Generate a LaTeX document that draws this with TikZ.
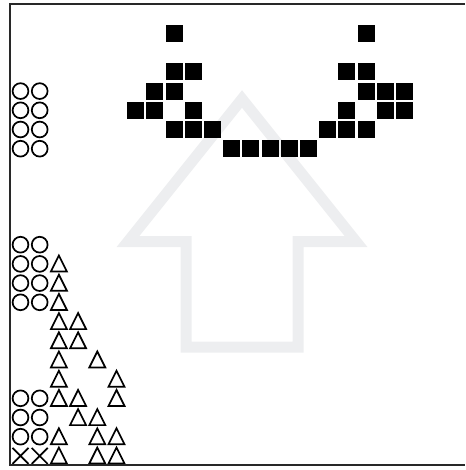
\documentclass[tikz,border=0pt]{standalone}
\usepackage{tikz}
\usetikzlibrary{positioning}
\definecolor{ArrowGray}{RGB}{237,238,240}
\definecolor{FrameGray}{RGB}{40,40,40}

\begin{document}
\begin{tikzpicture}[x=1pt,y=-1pt,
  blk/.style={fill=black,minimum size=17pt,inner sep=0pt},
  ring/.style={draw=black,circle,line width=1.7pt,minimum size=15.8pt,inner sep=0pt},
  tri/.style={draw=black,line width=1.7pt,line join=miter},
  xmark/.style={draw=black,line width=1.7pt},
  arrowline/.style={draw=ArrowGray,line width=11pt,line join=miter}]
  \useasboundingbox (0,0) rectangle (465,470);
  % big pale arrow behind everything
  \draw[arrowline] (242,99) -- (128,241.5) -- (186,241.5) -- (186,347)
    -- (298,347) -- (298,241.5) -- (356,241.5) -- cycle;
  % black squares (column/row on the 19.2pt grid)
  \foreach \c/\r in {8/0,18/0,8/2,9/2,17/2,18/2,7/3,8/3,18/3,19/3,20/3,
                     6/4,7/4,9/4,17/4,19/4,20/4,8/5,9/5,10/5,16/5,17/5,18/5,
                     11/6,12/6,13/6,14/6,15/6}
    \node[blk] (b\c-\r) at ({20.5+19.2*\c},{33.5+19.2*\r}) {};
  % circles
  \foreach \r in {3,4,5,6,11,12,13,14,19,20,21}
    \foreach \c in {0,1}
      \node[ring] (o\c-\r) at ({20.5+19.2*\c},{33.5+19.2*\r}) {};
  % triangles
  \foreach \c/\r in {2/12,2/13,2/14,2/15,3/15,2/16,3/16,2/17,4/17,2/18,5/18,
                     2/19,3/19,5/19,3/20,4/20,2/21,4/21,5/21,2/22,4/22,5/22}
    \draw[tri] ({20.5+19.2*\c-8},{33.5+19.2*\r+7.6}) -- ++(8,-16) -- ++(8,16) -- cycle;
  % crosses
  \foreach \c in {0,1}
    \draw[xmark] ({20.5+19.2*\c-8},{33.5+19.2*22-8}) -- ++(16,16)
                 ({20.5+19.2*\c-8},{33.5+19.2*22+8}) -- ++(16,-16);
  % frame
  \draw[FrameGray,line width=2pt] (465,4) -- (10,4) -- (10,465) -- (465,465);
\end{tikzpicture}
\end{document}
